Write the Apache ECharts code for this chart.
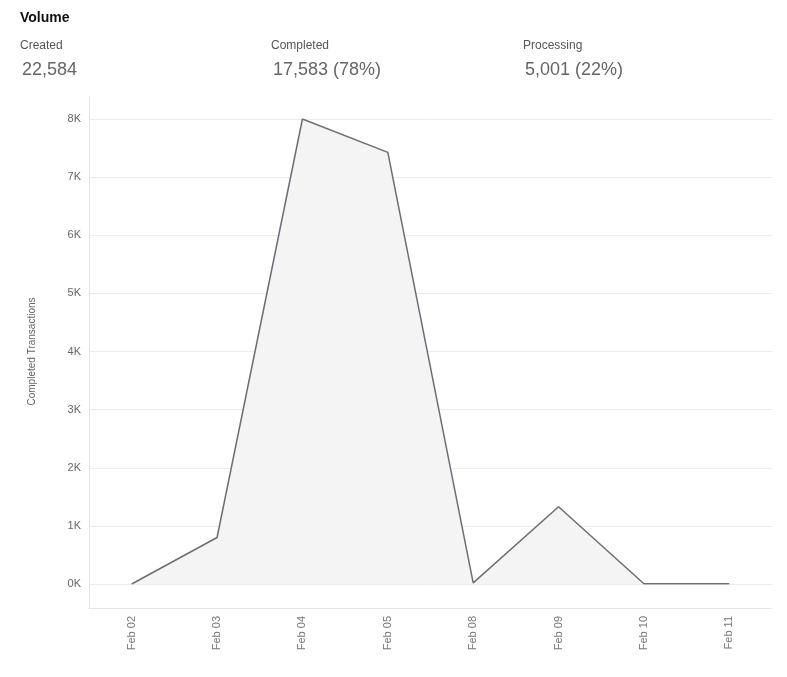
<!DOCTYPE html>
<html>
<head>
<meta charset="utf-8">
<script src="https://cdn.jsdelivr.net/npm/echarts@6/dist/echarts.min.js"></script>
<style>
  html, body { margin: 0; padding: 0; background: #fff; }
  #volumeChart { width: 787px; height: 677px; }
</style>
</head>
<body>
<div id="volumeChart"></div>
<script>
// 日期
const days = ['Feb 02', 'Feb 03', 'Feb 04', 'Feb 05', 'Feb 08', 'Feb 09', 'Feb 10', 'Feb 11'];
// 每日完成量
const completed = [0, 800, 8000, 7425, 20, 1330, 5, 3];
// 顶部统计
const statLabels = ['Created', 'Completed', 'Processing'];
const statValues = ['22,584', '17,583 (78%)', '5,001 (22%)'];
const statX = [20, 271, 523];

let volumeChart = echarts.init(document.getElementById('volumeChart'));

const headerText = [
    {type: 'text', left: 20, top: 11, style: {text: 'Volume', font: 'bold 14px "Liberation Sans", Arial, sans-serif', fill: '#111'}}
];
statLabels.forEach((name, i) => {
    headerText.push({type: 'text', left: statX[i], top: 40, style: {text: name, font: '12px "Liberation Sans", Arial, sans-serif', fill: '#555'}});
    headerText.push({type: 'text', left: statX[i] + 2, top: 61, style: {text: statValues[i], font: '18px "Liberation Sans", Arial, sans-serif', fill: '#666'}});
});

option = {
    animation: false,
    textStyle: {fontFamily: '"Liberation Sans", Arial, sans-serif'},
    graphic: headerText,
    grid: [
        {left: 89, right: 15, top: 119, bottom: 93},  //数据区
        {left: 89, right: 15, top: 97, bottom: 69}    //外框
    ],
    xAxis: [
        {
            gridIndex: 0,
            type: 'category',
            data: days,
            boundaryGap: true,
            axisLine: {show: false},
            axisTick: {show: false},
            axisLabel: {show: false}
        },
        {
            gridIndex: 1,
            type: 'category',
            data: days,
            boundaryGap: true,
            axisLine: {show: true, lineStyle: {color: '#e6e6e6'}},
            axisTick: {show: false},
            axisLabel: {rotate: 90, margin: 8, fontSize: 11, color: '#777'}
        }
    ],
    yAxis: [
        {
            gridIndex: 0,
            type: 'value',
            min: 0,
            max: 8000,
            interval: 1000,
            name: 'Completed Transactions',
            nameLocation: 'middle',
            nameGap: 52,
            nameTextStyle: {fontSize: 10, color: '#666'},
            axisLine: {show: false},
            axisTick: {show: false},
            axisLabel: {
                margin: 8,
                fontSize: 11,
                color: '#666',
                formatter: v => (v / 1000) + 'K'
            },
            splitLine: {lineStyle: {color: '#ebebeb'}}
        },
        {
            gridIndex: 1,
            type: 'value',
            axisLine: {show: true, lineStyle: {color: '#e6e6e6'}},
            axisTick: {show: false},
            axisLabel: {show: false},
            splitLine: {show: false}
        }
    ],
    series: [
        {
            type: 'line',
            xAxisIndex: 0,
            yAxisIndex: 0,
            data: completed,
            symbol: 'none',
            lineStyle: {color: '#6b6d78', width: 1.5},
            areaStyle: {color: '#f4f4f4', opacity: 1}
        }
    ]
};
volumeChart.setOption(option);
</script>
</body>
</html>
